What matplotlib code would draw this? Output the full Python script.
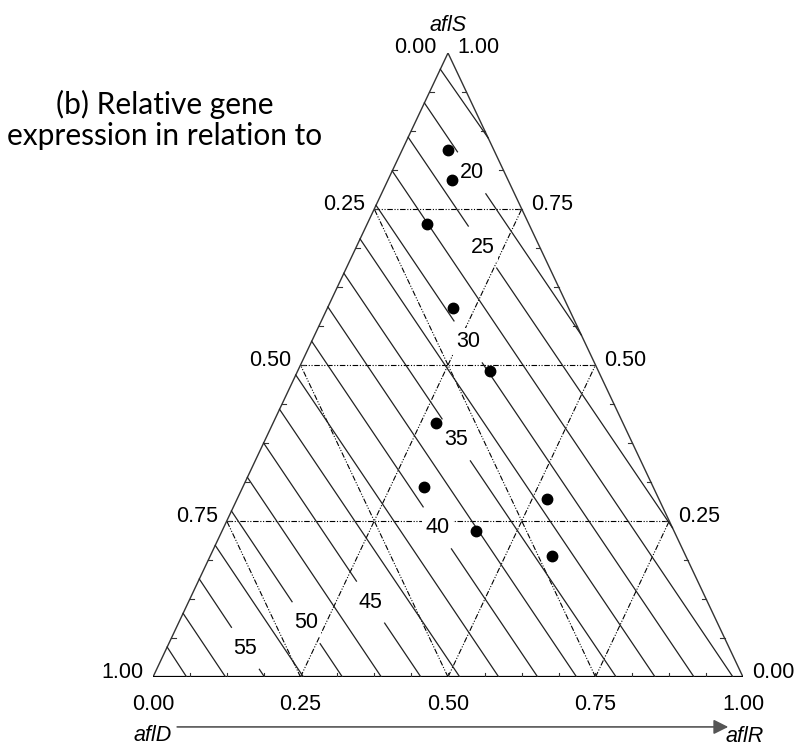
import matplotlib.pyplot as plt
import numpy as np

# contour lines: start on the left edge (height = aflS fraction),
# end on the right edge (first three) or on the bottom edge
line_start_S = [0.974, 0.920, 0.865, 0.811, 0.756, 0.702, 0.647, 0.593, 0.538,
                0.484, 0.429, 0.375, 0.320, 0.266, 0.211, 0.157, 0.102, 0.048]
line_end_S = [0.864, 0.548, 0.239, 0, 0, 0, 0, 0, 0, 0, 0, 0, 0, 0, 0, 0, 0, 0]
line_end_R = [0.136, 0.452, 0.761, 0.983, 0.917, 0.851, 0.785, 0.718, 0.652,
              0.586, 0.520, 0.454, 0.387, 0.321, 0.255, 0.189, 0.123, 0.057]

# contour labels: text, which line, height of the label on that line
contour_labels = ['20', '25', '30', '35', '40', '45', '50', '55']
label_line = [1, 2, 4, 6, 8, 11, 13, 15]
label_S = [0.808, 0.689, 0.537, 0.380, 0.239, 0.120, 0.087, 0.046]

# experimental points (aflS, aflR fractions)
dot_S = [0.845, 0.797, 0.726, 0.591, 0.490, 0.407, 0.305, 0.234, 0.285, 0.194]
dot_R = [0.078, 0.109, 0.101, 0.213, 0.326, 0.276, 0.307, 0.431, 0.525, 0.579]

grid_vals = [0.25, 0.5, 0.75]
edge_vals = [0.0, 0.25, 0.5, 0.75, 1.0]


def tern(S, R):
    # aflS on top, aflD bottom left, aflR bottom right
    S = np.asarray(S, dtype=float)
    R = np.asarray(R, dtype=float)
    return R + S / 2.0, S


fig = plt.figure(figsize=(8.03, 7.51), dpi=100)
ax = fig.add_axes([153 / 803, 74 / 751, 590 / 803, 624 / 751])
ax.set_xlim(0, 1)
ax.set_ylim(0, 1)
ax.axis('off')

# triangle
ax.plot([0, 0.5, 1], [0, 1, 0], color='#333333', lw=1.0, zorder=2)
ax.plot([0, 1], [0, 0], color='black', lw=1.6, zorder=2)

# small edge ticks every 1/16
tk = np.arange(1, 16) / 16.0
for v in tk:
    ax.plot([v, v], [0, 0.0065], color='#333333', lw=0.8)
    xr, hr = tern(v, 1 - v)
    ax.plot([xr, xr - 0.007], [hr, hr], color='#333333', lw=0.8)
    xl, hl = tern(v, 0)
    ax.plot([xl, xl + 0.007], [hl, hl], color='#333333', lw=0.8)

# dash-dot-dot grid
gstyle = (0, (5, 1.5, 1, 1.5, 1, 1.5))
for v in grid_vals:
    segs = [((v, 0), (v, 1 - v)),          # constant aflS
            ((0, v), (1 - v, v)),          # constant aflR
            ((0, 1 - v), (1 - v, 0))]      # constant aflD
    for (s0, r0), (s1, r1) in segs:
        x, h = tern([s0, s1], [r0, r1])
        ax.plot(x, h, color='black', lw=0.8, ls=gstyle, zorder=1)

fs = 15.5
fam = 'Liberation Sans'

# contour lines with gaps for labels
gap = 42 / 624
label_at = dict(zip(label_line, zip(contour_labels, label_S)))
for i in range(len(line_start_S)):
    x0, h0 = tern(line_start_S[i], 0)
    x1, h1 = tern(line_end_S[i], line_end_R[i])
    if i in label_at:
        txt, s = label_at[i]
        t = lambda hh: (hh - h0) / (h1 - h0)
        ta, tb = t(s + gap / 2), t(s - gap / 2)
        for a, b in [(0, ta), (tb, 1)]:
            ax.plot([x0 + a * (x1 - x0), x0 + b * (x1 - x0)],
                    [h0 + a * (h1 - h0), h0 + b * (h1 - h0)],
                    color='#222222', lw=0.9, zorder=2)
        tc = t(s)
        ax.text(x0 + tc * (x1 - x0), s, txt, ha='center', va='center',
                fontsize=fs, family=fam, zorder=3,
                bbox=dict(boxstyle='square,pad=0.15', fc='white', ec='none'))
    else:
        ax.plot([x0, x1], [h0, h1], color='#222222', lw=0.9, zorder=2)

# points
dx, dh = tern(dot_S, dot_R)
ax.plot(dx, dh, 'o', color='black', ms=7.5, zorder=4)

# edge labels
for s in edge_vals[1:4] + [0.0]:
    x, h = tern(s, 0)
    ax.annotate('%.2f' % (1 - s), (x, h), xytext=(-6.5, 3.6), textcoords='offset points',
                ha='right', va='center', fontsize=fs, family=fam, annotation_clip=False)
    x, h = tern(s, 1 - s)
    ax.annotate('%.2f' % s, (x, h), xytext=(6.5, 3.6), textcoords='offset points',
                ha='left', va='center', fontsize=fs, family=fam, annotation_clip=False)
ax.annotate('0.00', (0.5, 1), xytext=(-8, 4.3), textcoords='offset points',
            ha='right', va='center', fontsize=fs, family=fam, annotation_clip=False)
ax.annotate('1.00', (0.5, 1), xytext=(7, 4.3), textcoords='offset points',
            ha='left', va='center', fontsize=fs, family=fam, annotation_clip=False)
for r in edge_vals:
    ax.annotate('%.2f' % r, (r, 0), xytext=(0, -19.5), textcoords='offset points',
                ha='center', va='center', fontsize=fs, family=fam, annotation_clip=False)

# axis names
ax.annotate('aflS', (0.5, 1), xytext=(0, 20), textcoords='offset points', ha='center',
            va='center', fontsize=fs, family=fam, style='italic', annotation_clip=False)
ax.text(0, -0.093, 'aflD', ha='center', va='center', fontsize=fs, family=fam,
        style='italic', clip_on=False)
ax.text(1.003, -0.096, 'aflR', ha='center', va='center', fontsize=fs, family=fam,
        style='italic', clip_on=False)
ax.annotate('', xy=(0.975, -0.080), xytext=(0.041, -0.080),
            arrowprops=dict(arrowstyle='-|>', color='#555555', lw=1.2,
                            mutation_scale=22, shrinkA=0, shrinkB=0),
            annotation_clip=False)

fig.text(165 / 803, 1 - 120 / 751, '(b) Relative gene\nexpression in relation to',
         ha='center', va='center', fontsize=21.5, family='Lato', linespacing=1.1)

fig.savefig('out.png', dpi=100)
